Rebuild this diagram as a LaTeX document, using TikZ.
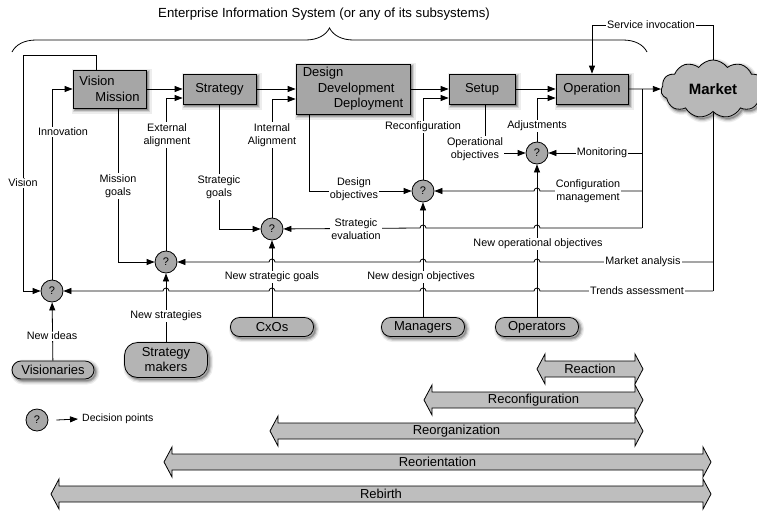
\documentclass[tikz,border=0pt]{standalone}
\usepackage{fontspec}
\setmainfont{Liberation Sans}
\usetikzlibrary{arrows.meta,shapes.symbols,shapes.misc,decorations.pathreplacing,calc}

\definecolor{boxgray}{HTML}{A6A6A6}
\definecolor{actorgray}{HTML}{B4B4B4}
\definecolor{decgray}{HTML}{A8A8A8}
\definecolor{bandgray}{HTML}{BEBEBE}
\definecolor{cloudgray}{HTML}{B8B8B8}

\pgfdeclarelayer{paper}
\pgfdeclarelayer{bg}
\pgfsetlayers{paper,bg,main}

\tikzset{
  % soft halo built from a few translucent strokes behind the shape
  softshadow/.style={
    preaction={draw=black, line width=7pt, opacity=0.07, transform canvas={shift={(2pt,-2pt)}}},
    preaction={draw=black, line width=4.5pt, opacity=0.11, transform canvas={shift={(2pt,-2pt)}}},
    preaction={draw=black, fill=black, line width=2pt, opacity=0.18, transform canvas={shift={(2pt,-2pt)}}}},
  box/.style={draw, fill=boxgray, line width=0.8pt, softshadow, inner sep=2pt, align=left,
              font=\fontsize{13}{15.5}\selectfont},
  actor/.style={draw, fill=actorgray, line width=0.8pt, rounded corners=9pt, softshadow,
              inner sep=1pt, align=center, minimum width=83pt, minimum height=19pt,
              font=\fontsize{13}{15}\selectfont},
  dec/.style={circle, draw, fill=decgray, line width=0.8pt, minimum size=22pt, inner sep=0pt,
              font=\fontsize{11}{11}\selectfont},
  lbl/.style={fill=white, inner sep=1pt, align=center, font=\fontsize{10.8}{13.5}\selectfont},
  conn/.style={line width=0.8pt},
  arr/.style={line width=0.8pt, -{Triangle[length=8pt,width=6pt]}},
  band/.style={draw, fill=bandgray, line width=0.8pt},
  bandlbl/.style={inner sep=0pt, font=\fontsize{13}{13}\selectfont},
}

% double-headed band: name, left tip x, right tip x, centre y, text
\newcommand\bandarrow[5]{%
  \draw[band] (#2,#4) -- (#2+8,#4-15) -- (#2+8,#4-8) -- (#3-8,#4-8) -- (#3-8,#4-15) -- (#3,#4)
    -- (#3-8,#4+15) -- (#3-8,#4+8) -- (#2+8,#4+8) -- (#2+8,#4+15) -- cycle;
  \node[bandlbl] (#1) at ({(#2+#3)/2},#4) {#5};}

\begin{document}
\begin{tikzpicture}[x=1pt,y=-1pt]
\useasboundingbox (0,0) rectangle (757,512);
\begin{pgfonlayer}{paper}
  \fill[white] (0,0) rectangle (757,512);
\end{pgfonlayer}

% title and brace
\node[inner sep=0pt, font=\fontsize{13.2}{14}\selectfont] (title) at (324,14)
  {Enterprise Information System (or any of its subsystems)};
\draw[line width=0.8pt, decorate, decoration={brace, amplitude=24pt}] (12,52) -- (647,52);

% process boxes
\node[box, minimum width=73pt, minimum height=38pt] (vm) at (109.5,89) {Vision\\\hspace*{16pt}Mission};
\node[box, minimum width=73pt, minimum height=30pt] (strat) at (219.5,89) {Strategy};
\node[box, minimum width=114pt, minimum height=50pt] (des) at (353,89)
  {Design\\\hspace*{15pt}Development\\\hspace*{31pt}Deployment};
\node[box, minimum width=66pt, minimum height=30pt] (setup) at (482,89) {Setup};
\node[box, minimum width=72pt, minimum height=30pt] (op) at (592,89) {Operation};
\node[cloud, cloud puffs=11, cloud puff arc=110, aspect=1.8, draw, fill=cloudgray, line width=0.8pt,
      minimum width=104pt, minimum height=58pt, inner sep=0pt, softshadow,
      font=\bfseries\fontsize{15}{15}\selectfont] (mkt) at (713,89) {Market};

% decision points
\node[dec] (d1) at (52,291) {?};
\node[dec] (d2) at (166,262) {?};
\node[dec] (d3) at (272,229) {?};
\node[dec] (d4) at (423,191) {?};
\node[dec] (d5) at (537,153) {?};

% actors
\node[actor, minimum width=82pt, minimum height=18pt] (vis) at (53,370) {Visionaries};
\node[actor, minimum height=35pt, rounded corners=13pt] (smk) at (166,360) {Strategy\\makers};
\node[actor] (cxo) at (272,327) {CxOs};
\node[actor] (mgr) at (423,327) {Managers};
\node[actor] (opr) at (537,327) {Operators};

% connector labels
\node[lbl] (lsvc) at (651,25) {Service invocation};
\node[lbl] (lvision) at (23,183) {Vision};
\node[lbl] (linnov) at (63,132) {Innovation};
\node[lbl] (lmission) at (118,186) {Mission\\goals};
\node[lbl] (lext) at (167,135) {External\\alignment};
\node[lbl] (lsgoals) at (219,187) {Strategic\\goals};
\node[lbl] (lint) at (272,135) {Internal\\Alignment};
\node[lbl] (ldobj) at (354,189) {Design\\objectives};
\node[lbl] (lseval) at (356,229) {Strategic\\evaluation};
\node[lbl] (lreconf) at (423,127) {Reconfiguration};
\node[lbl] (opobj) at (475,149) {Operational\\objectives};
\node[lbl] (ladj) at (537,126) {Adjustments};
\node[lbl] (lmon) at (602,153) {Monitoring};
\node[lbl] (lcfg) at (588,191) {Configuration\\management};
\node[lbl] (lnoo) at (538,244) {New operational objectives};
\node[lbl] (lmkt) at (643,262) {Market analysis};
\node[lbl] (lndo) at (421,277) {New design objectives};
\node[lbl] (lnsg) at (272,277) {New strategic goals};
\node[lbl] (ltrend) at (637,291) {Trends assessment};
\node[lbl] (lnstr) at (166,316) {New strategies};
\node[lbl] (lnid) at (52,336) {New ideas};

% legend
\node[dec] (legq) at (37,420) {?};
\node[inner sep=0pt, anchor=west, font=\fontsize{10.5}{12}\selectfont] (legtxt) at (82,419) {Decision points};

\begin{pgfonlayer}{bg}
  % main value chain
  \draw[arr] (vm) -- (strat);
  \draw[arr] (strat) -- (des);
  \draw[arr] (des) -- (setup);
  \draw[arr] (setup) -- (op);
  \draw[arr] (op) -- (mkt);

  % service invocation from the market
  \coordinate (svc) at (713,25);
  \draw[arr] (mkt.center) -- (svc) -| (op.north);

  % vision loop
  \coordinate (vtop) at (23,55);
  \draw[arr] ([xshift=-13.5pt]vm.north) |- (vtop) |- (d1);

  % feedback from operation
  \coordinate (opbr) at (642,89);
  \coordinate (opend) at (642,228);
  \draw[conn] (opbr) -- (opend);
  \draw[arr] (opbr |- d5) -- (d5);
  \draw[arr] (opbr |- d4) -- (540,191) arc(0:180:3pt) -- (d4);
  \draw[arr] (opend) -- (540,228) arc(0:180:3pt) -- (426,228) arc(0:180:3pt) -- (d3);

  % feedback from the market
  \coordinate (mkbot) at (713,291);
  \draw[conn] (mkt.center) -- (mkbot);
  \draw[arr] (mkt.center |- d2) -- (540,262) arc(0:180:3pt) -- (426,262) arc(0:180:3pt)
    -- (275,262) arc(0:180:3pt) -- (d2);
  \draw[arr] (mkbot) -- (540,291) arc(0:180:3pt) -- (426,291) arc(0:180:3pt)
    -- (275,291) arc(0:180:3pt) -- (169,291) arc(0:180:3pt) -- (d1);

  % actor inputs
  \draw[arr] (vis) -- (d1);
  \draw[arr] (smk) -- (d2);
  \draw[arr] (cxo) -- (d3);
  \draw[arr] (mgr) -- (d4);
  \draw[arr] (opr) -- (d5);

  % decisions back into the chain
  \draw[arr] (d1) |- (vm.west);
  \draw[arr] (d2) |- ([yshift=-9pt]strat.west);
  \draw[arr] (d3) |- ([yshift=-10pt]des.west);
  \draw[arr] (d4) |- ([yshift=-9pt]setup.west);
  \draw[arr] (d5) |- ([yshift=-9pt]op.west);

  % goals and objectives down to decisions
  \draw[arr] ([xshift=8.5pt]vm.south) |- (d2);
  \draw[arr] (strat.south) |- (d3);
  \draw[arr] ([xshift=-44pt]des.south) |- (d4);
  \coordinate (setout) at ([xshift=3pt]setup.south);
  \draw[conn] (setout) -- (setout |- opobj.north);
  \draw[arr] (opobj.east |- d5) -- (d5);

  % legend arrow
  \draw[arr] ([xshift=8pt]legq.east) -- ([xshift=-4pt]legtxt.west);
\end{pgfonlayer}

% scope of change
\bandarrow{reaction}{537}{643}{369}{Reaction}
\bandarrow{reconf}{424}{643}{400}{Reconfiguration}
\bandarrow{reorg}{270}{643}{431}{Reorganization}
\bandarrow{reorient}{164}{711}{462}{Reorientation}
\bandarrow{rebirth}{51}{711}{494}{Rebirth}
\end{tikzpicture}
\end{document}
